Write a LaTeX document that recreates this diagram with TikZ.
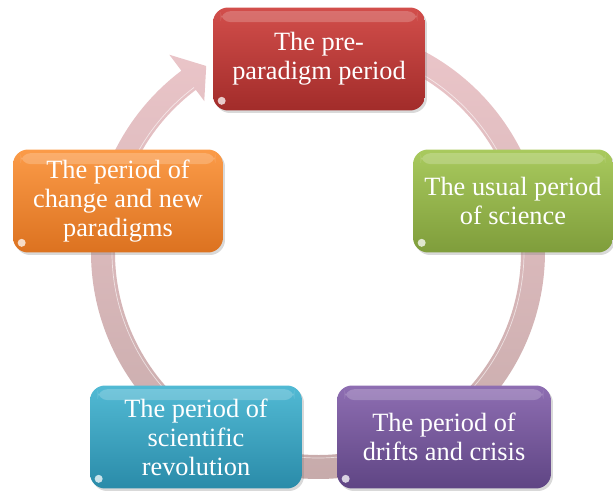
\documentclass[tikz,border=0pt]{standalone}
\usepackage{fontspec}
\setmainfont{Liberation Serif}
\usetikzlibrary{calc,shadows}

\definecolor{ringtop}{HTML}{ECC6CA}
\definecolor{ringbot}{HTML}{C6AAAA}
\definecolor{redtop}{HTML}{D24E4B}
\definecolor{redbot}{HTML}{A22C2A}
\definecolor{greentop}{HTML}{A9CA5E}
\definecolor{greenbot}{HTML}{7F9D3B}
\definecolor{purpletop}{HTML}{8E6EB2}
\definecolor{purplebot}{HTML}{5F4584}
\definecolor{aquatop}{HTML}{52BAD4}
\definecolor{aquabot}{HTML}{2A8BA9}
\definecolor{orangetop}{HTML}{FB9B48}
\definecolor{orangebot}{HTML}{DC7220}

\begin{document}
\begin{tikzpicture}[x=0.02cm,y=0.02cm,
  stage/.style={rounded corners=0.3cm, minimum width=4.24cm, minimum height=2.06cm,
    align=center, text=white, font=\fontsize{15}{16.5}\selectfont,
    drop shadow={opacity=0.3, shadow xshift=0.04cm, shadow yshift=-0.05cm}}]
  \useasboundingbox (0,0) rectangle (613,497);

  % the ring with its arrow head
  \begin{scope}[shift={(318,245)}]
    \shade[top color=ringtop, bottom color=ringbot]
      (85:227) arc[start angle=85, end angle=-233, radius=227]
      -- (127:247) -- (121:217) -- (127:189) -- (127:203)
      arc[start angle=-233, end angle=85, radius=203] -- cycle;
    \draw[white, opacity=0.6, line width=0.4pt]
      (85:206) arc[start angle=85, end angle=-233, radius=206];
  \end{scope}

  \node[stage, shade, top color=redtop, bottom color=redbot] (pre) at (319,438)
    {The pre-\\paradigm period};
  \node[stage, shade, top color=greentop, bottom color=greenbot, minimum width=4cm] (usual) at (513,296)
    {The usual period\\of science};
  \node[stage, shade, top color=purpletop, bottom color=purplebot, minimum width=4.28cm] (crisis) at (444,60)
    {The period of\\drifts and crisis};
  \node[stage, shade, top color=aquatop, bottom color=aquabot] (revol) at (196,60)
    {The period of\\scientific\\revolution};
  \node[stage, shade, top color=orangetop, bottom color=orangebot, minimum width=4.2cm] (change) at (118,296)
    {The period of\\change and new\\paradigms};

  \foreach \n in {pre,usual,crisis,revol,change} {
    \fill[white, opacity=0.2, rounded corners=0.2cm]
      ($(\n.north west)+(8,-4)$) rectangle ($(\n.north east)+(-8,-15)$);
    \fill[white, opacity=0.75] ($(\n.south west)+(9,10)$) circle (4);
  }
\end{tikzpicture}
\end{document}
